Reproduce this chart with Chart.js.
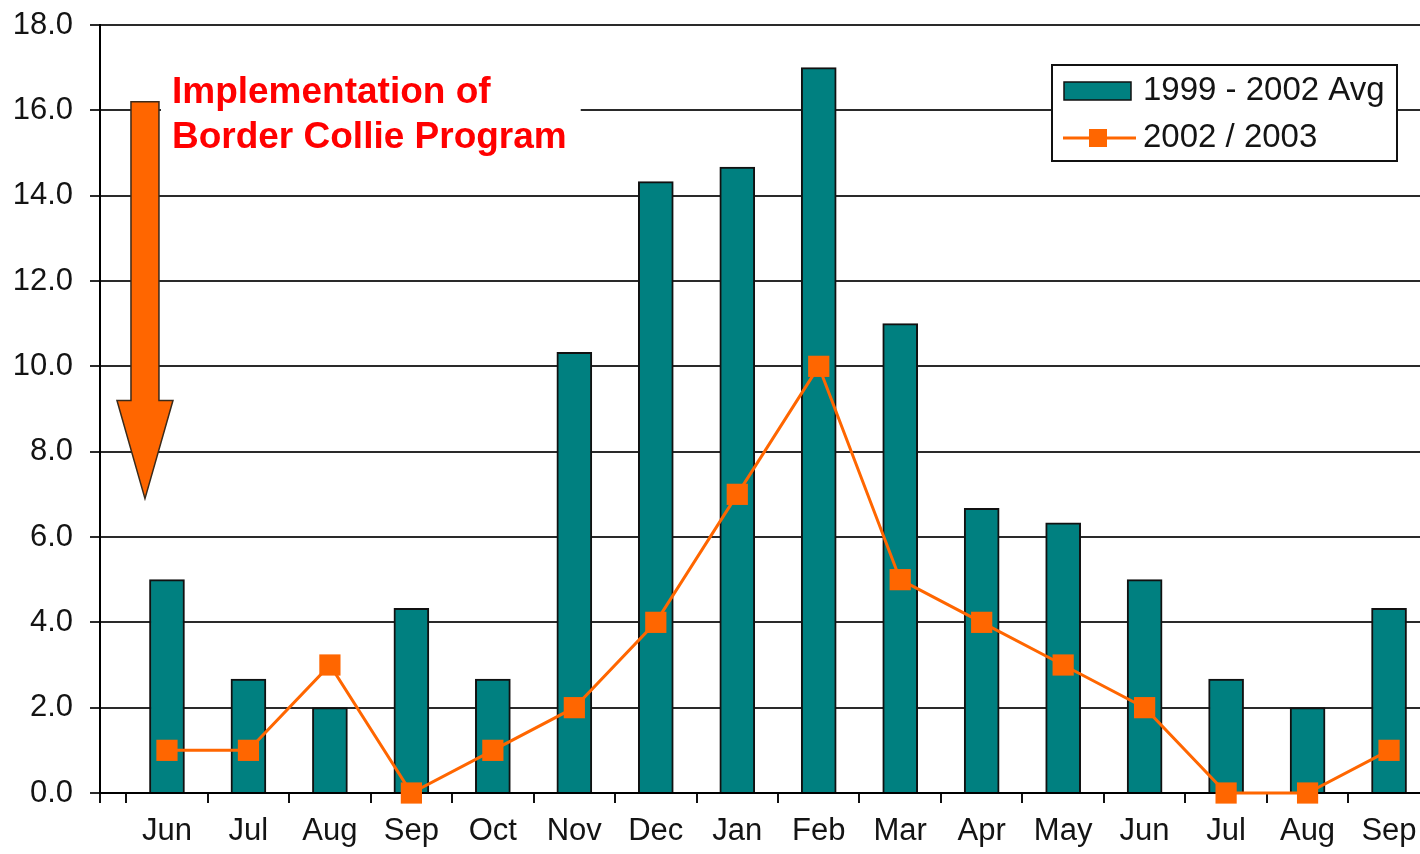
<!DOCTYPE html>
<html><head><meta charset="utf-8">
<script src="https://cdn.jsdelivr.net/npm/chart.js@4/dist/chart.umd.min.js"></script>
<style>html,body{margin:0;padding:0;background:#fff;overflow:hidden}</style>
</head><body>
<canvas id="c" width="1420" height="854"></canvas>
<script>
// ---- data ----
const months = ['Jun','Jul','Aug','Sep','Oct','Nov','Dec','Jan','Feb','Mar','Apr','May','Jun','Jul','Aug','Sep'];
const avg1999_2002 = [5.0, 2.67, 2.0, 4.33, 2.67, 10.33, 14.33, 14.67, 17.0, 11.0, 6.67, 6.33, 5.0, 2.67, 2.0, 4.33];
const season2002_2003 = [1, 1, 3, 0, 1, 2, 4, 7, 10, 5, 4, 3, 2, 0, 0, 1];
const seriesLabels = ['1999 - 2002 Avg', '2002 / 2003'];
const yMin = 0, yMax = 18, yStep = 2;
const noteLines = ['Implementation of', 'Border Collie Program'];

// ---- style ----
const FONT = '"Liberation Sans", Arial, Helvetica, sans-serif';
const TEAL = '#008080', ORANGE = '#FF6600', INK = '#141414';

const annotPlugin = {
  id: 'annot',
  afterDatasetsDraw(chart) {
    const ctx = chart.ctx, xs = chart.scales.x, ys = chart.scales.y;
    const ax = xs.getPixelForValue(-0.27);
    const yTop = ys.getPixelForValue(16.2);
    const yHead = ys.getPixelForValue(9.2);
    const yTip = ys.getPixelForValue(6.9);
    const sw = 14, hw = 28;
    ctx.save();
    ctx.font = 'bold 37px ' + FONT;
    const tx = ax + 27;
    const w = Math.max(...noteLines.map(l => ctx.measureText(l).width));
    ctx.fillStyle = '#fff';
    ctx.fillRect(ax + sw + 2, yTop - 36, tx + w + 14 - (ax + sw + 2), 96);
    ctx.fillStyle = '#FF0000';
    ctx.textBaseline = 'alphabetic';
    ctx.textAlign = 'left';
    ctx.fillText(noteLines[0], tx, yTop + 1);
    ctx.fillText(noteLines[1], tx, yTop + 46);
    // arrow
    ctx.beginPath();
    ctx.moveTo(ax - sw, yTop);
    ctx.lineTo(ax + sw, yTop);
    ctx.lineTo(ax + sw, yHead);
    ctx.lineTo(ax + hw, yHead);
    ctx.lineTo(ax, yTip);
    ctx.lineTo(ax - hw, yHead);
    ctx.lineTo(ax - sw, yHead);
    ctx.closePath();
    ctx.fillStyle = ORANGE;
    ctx.fill();
    ctx.lineWidth = 1.5;
    ctx.strokeStyle = '#3a2a1a';
    ctx.stroke();
    ctx.restore();
  },
  afterDraw(chart) {
    const ctx = chart.ctx, ca = chart.chartArea;
    const bx = ca.right - 368, by = ca.top + 40, bw = 345, bh = 96;
    ctx.save();
    ctx.fillStyle = '#fff';
    ctx.fillRect(bx, by, bw, bh);
    ctx.lineWidth = 2;
    ctx.strokeStyle = '#111';
    ctx.strokeRect(bx, by, bw, bh);
    ctx.fillStyle = TEAL;
    ctx.fillRect(bx + 12, by + 17, 67, 18);
    ctx.lineWidth = 1.5;
    ctx.strokeRect(bx + 12, by + 17, 67, 18);
    ctx.strokeStyle = ORANGE;
    ctx.lineWidth = 3;
    ctx.beginPath();
    ctx.moveTo(bx + 11, by + 73);
    ctx.lineTo(bx + 84, by + 73);
    ctx.stroke();
    ctx.fillStyle = ORANGE;
    ctx.fillRect(bx + 37, by + 64, 18, 18);
    ctx.fillStyle = INK;
    ctx.font = '33px ' + FONT;
    ctx.textBaseline = 'alphabetic';
    ctx.fillText(seriesLabels[0], bx + 91, by + 35);
    ctx.fillText(seriesLabels[1], bx + 91, by + 82);
    ctx.restore();
  }
};

new Chart(document.getElementById('c'), {
  data: {
    datasets: [
      {
        type: 'line',
        label: seriesLabels[1],
        data: season2002_2003.map((v, i) => ({ x: i, y: v })),
        borderColor: ORANGE,
        borderWidth: 3,
        pointStyle: 'rect',
        pointRadius: 15,
        pointBackgroundColor: ORANGE,
        pointBorderWidth: 0,
        tension: 0,
        clip: false,
        order: 0
      },
      {
        type: 'bar',
        label: seriesLabels[0],
        data: avg1999_2002.map((v, i) => ({ x: i, y: v })),
        backgroundColor: TEAL,
        borderColor: '#111',
        borderWidth: 2,
        barThickness: 35,
        order: 1
      }
    ]
  },
  options: {
    responsive: false,
    animation: false,
    devicePixelRatio: 1,
    layout: { autoPadding: false, padding: { top: 25, right: 0, left: 0, bottom: 0 } },
    plugins: { legend: { display: false }, tooltip: { enabled: false } },
    scales: {
      x: {
        type: 'linear',
        offset: false,
        min: -0.822,
        max: 15.38,
        afterBuildTicks: s => {
          s.ticks = [{ value: s.min }].concat(months.map((m, i) => ({ value: i - 0.5 })));
        },
        afterFit: s => { s.height = 61; s.paddingLeft = 0; s.paddingRight = 0; },
        ticks: {
          autoSkip: false,
          maxRotation: 0,
          labelOffset: 40.7,
          padding: 10,
          color: INK,
          font: { family: FONT, size: 31 },
          callback: (v, idx) => idx === 0 ? '' : months[idx - 1]
        },
        grid: { offset: false, drawOnChartArea: false, drawTicks: true, tickLength: 10, color: '#111', lineWidth: 2 },
        border: { display: true, color: '#000', width: 2 }
      },
      y: {
        min: yMin,
        max: yMax,
        afterFit: s => { s.width = 100; s.paddingTop = 0; s.paddingBottom = 0; },
        ticks: {
          stepSize: yStep,
          padding: 17,
          color: INK,
          font: { family: FONT, size: 31 },
          callback: v => Number(v).toFixed(1)
        },
        grid: { color: '#2a2a2a', lineWidth: 2, tickLength: 10, drawTicks: true },
        border: { display: true, color: '#000', width: 2 }
      }
    }
  },
  plugins: [annotPlugin]
});
</script>
</body></html>
